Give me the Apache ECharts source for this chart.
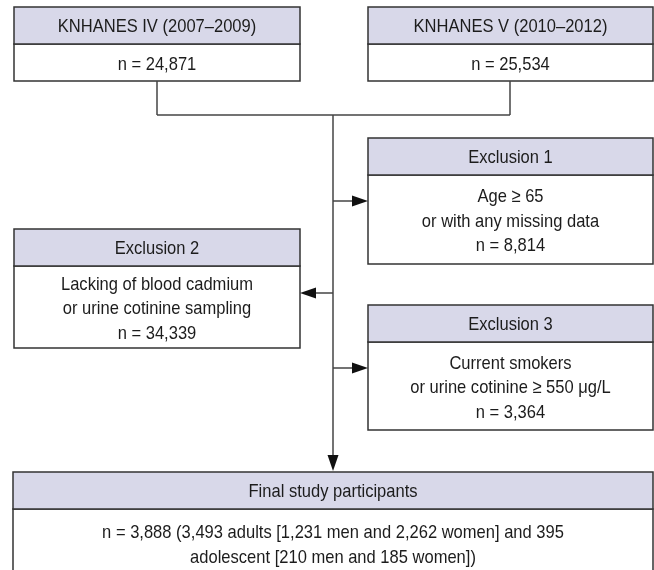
<!DOCTYPE html>
<html>
<head>
<meta charset="utf-8">
<script src="https://cdn.jsdelivr.net/npm/echarts@6/dist/echarts.min.js"></script>
<style>
  html, body { margin: 0; padding: 0; background: #fff; }
  #chart { width: 654px; height: 570px; }
</style>
</head>
<body>
<div id="chart"></div>
<script>
// box contents
var boxTitles = [
  'KNHANES IV (2007\u20132009)',
  'KNHANES V (2010\u20132012)',
  'Exclusion 1',
  'Exclusion 2',
  'Exclusion 3',
  'Final study participants'
];
var boxLines = [
  ['n = 24,871'],
  ['n = 25,534'],
  ['Age \u2265 65', 'or with any missing data', 'n = 8,814'],
  ['Lacking of blood cadmium', 'or urine cotinine sampling', 'n = 34,339'],
  ['Current smokers', 'or urine cotinine \u2265 550 \u03bcg/L', 'n = 3,364'],
  ['n = 3,888 (3,493 adults [1,231 men and 2,262 women] and 395', 'adolescent [210 men and 185 women])']
];

// layout: [left, top, right, bottom]
var boxRects = [
  [14, 7, 300, 81],
  [368, 7, 653, 81],
  [368, 138, 653, 264],
  [14, 229, 300, 348],
  [368, 305, 653, 430],
  [13, 472, 653, 578]
];
var headH = 37;
var lineH = 24.5;

var FONT = '"Liberation Sans", Arial, sans-serif';
var headFill = '#d8d8e9';
var edge = '#333';
var wire = '#444';

var chart = echarts.init(document.getElementById('chart'));
var els = [];

// condensed look: squeeze the glyphs horizontally
function txt(s, x, y) {
  return {
    type: 'text',
    x: x, y: y,
    scaleX: 0.87,
    style: {
      text: s, x: 0, y: 0,
      align: 'center', verticalAlign: 'middle',
      textAlign: 'center', textVerticalAlign: 'middle',
      fill: '#1c1c1c', fontSize: 19, fontFamily: FONT
    }
  };
}

boxRects.forEach(function (r, i) {
  var cx = (r[0] + r[2]) / 2;
  els.push({
    type: 'rect',
    shape: { x: r[0], y: r[1] + headH, width: r[2] - r[0], height: r[3] - r[1] - headH },
    style: { fill: '#fff', stroke: edge, lineWidth: 1.5 }
  });
  els.push({
    type: 'rect',
    shape: { x: r[0], y: r[1], width: r[2] - r[0], height: headH },
    style: { fill: headFill, stroke: edge, lineWidth: 1.5 }
  });
  els.push(txt(boxTitles[i], cx, r[1] + headH / 2 + 1.5));
  var lines = boxLines[i];
  var bodyMid = (r[1] + headH + r[3]) / 2;
  var y0 = bodyMid - (lines.length - 1) * lineH / 2;
  lines.forEach(function (s, k) {
    els.push(txt(s, cx, y0 + k * lineH + 2));
  });
});

function seg(x1, y1, x2, y2) {
  els.push({
    type: 'line',
    shape: { x1: x1, y1: y1, x2: x2, y2: y2 },
    style: { stroke: wire, lineWidth: 1.5 }
  });
}
function head(x, y, dir) {
  var L = 16, W = 5.5, pts;
  if (dir === 'right') pts = [[x, y], [x - L, y - W], [x - L, y + W]];
  else if (dir === 'left') pts = [[x, y], [x + L, y - W], [x + L, y + W]];
  else pts = [[x, y], [x - W, y - L], [x + W, y - L]];
  els.push({ type: 'polygon', shape: { points: pts }, style: { fill: '#111' } });
}

var midX = 333;
// merge of the two cohorts
seg(157, 81, 157, 115);
seg(510, 81, 510, 115);
seg(157, 115, 510, 115);
// trunk down to final box
seg(midX, 115, midX, 456);
head(midX, 471, 'down');
// exclusions
seg(midX, 201, 354, 201); head(368, 201, 'right');
seg(midX, 293, 314, 293); head(300, 293, 'left');
seg(midX, 368, 354, 368); head(368, 368, 'right');

chart.setOption({
  animation: false,
  graphic: { elements: els }
});
</script>
</body>
</html>
